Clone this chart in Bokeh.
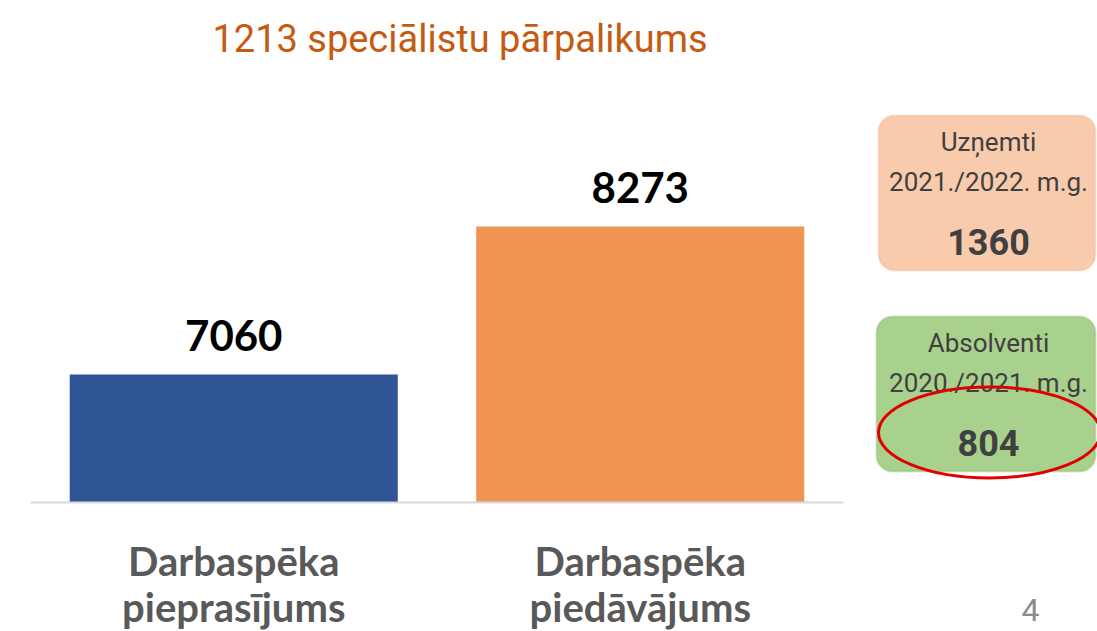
from bokeh.plotting import figure
from bokeh.models import Range1d, BoxAnnotation
from bokeh.embed import file_html
from bokeh.resources import INLINE
from bokeh.core.properties import value

# ---- data ----
title_text = "1213 speciālistu pārpalikums"
categories = ["Darbaspēka\npieprasījums", "Darbaspēka\npiedāvājums"]
values = [7060, 8273]
bar_colors = ["#2F5597", "#F09452"]
side_titles = ["Uzņemti", "Absolventi"]
side_periods = ["2021./2022. m.g.", "2020./2021. m.g."]
side_values = [1360, 804]
page_number = "4"

# ---- layout constants (page pixels) ----
W, H = 1097, 631
PLOT_L, PLOT_R = 30, 843            # extent of bar area / baseline
BASE_PX = 502                        # baseline pixel row
PX_PER_UNIT = 148 / 1213             # vertical scale
Y0 = 7060 - (BASE_PX - 374) / PX_PER_UNIT   # value at baseline
CAT_W = (PLOT_R - PLOT_L) / len(categories)

x_range = Range1d(-PLOT_L / CAT_W, (W - PLOT_L) / CAT_W)
y_range = Range1d(Y0 - (H - BASE_PX) / PX_PER_UNIT, Y0 + BASE_PX / PX_PER_UNIT)

p = figure(width=W, height=H, x_range=x_range, y_range=y_range, output_backend="svg",
           toolbar_location=None, x_axis_location=None, y_axis_location=None, min_border=0)
p.outline_line_color = None
p.grid.visible = False
p.background_fill_color = "white"
p.border_fill_color = "white"
p.extra_x_ranges = {"px": Range1d(0, W)}
p.extra_y_ranges = {"px": Range1d(H, 0)}

NARROW = "Roboto"
xs = [i + 0.5 for i in range(len(categories))]

# bars
p.vbar(x=xs, top=values, bottom=Y0, width=0.807, color=bar_colors, line_color=None)
# baseline
p.segment(x0=[0], x1=[len(categories)], y0=[Y0], y1=[Y0], line_color="#D9D9D9", line_width=2)
# value labels
p.text(x=xs, y=values, text=[str(v) for v in values], text_align="center",
       text_baseline="alphabetic", y_offset=-39, text_font=value("Lato"),
       text_font_style="bold", text_font_size="42px", text_color="#000000")
# category labels (two lines each)
lines1 = [c.split("\n")[0] for c in categories]
lines2 = [c.split("\n")[1] for c in categories]
for txt, py in ((lines1, 574), (lines2, 620)):
    p.text(x=xs, y=[py] * len(xs), y_range_name="px", text=txt, text_align="center",
           text_baseline="alphabetic", y_offset=-14, text_font=value("Lato"),
           text_font_style="bold", text_font_size="40px", text_color="#595959")

# title
p.text(x=[459.5], y=[54], x_range_name="px", y_range_name="px", text=[title_text],
       text_align="center", text_baseline="alphabetic", y_offset=-16,
       text_font=value(NARROW), text_font_size="38px", text_color="#C55A11")

# ---- side boxes ----
box_fill = ["#F8CBAD", "#A9D18E"]
box_line = ["#F4B183", "#7CB05A"]
box_left = [878, 876]
box_top = [115, 316]
box_h = 155
for i in range(2):
    p.add_layout(BoxAnnotation(left=box_left[i], right=1095, top=box_top[i], bottom=box_top[i] + box_h,
                               x_range_name="px", y_range_name="px", level="underlay",
                               fill_color=box_fill[i], fill_alpha=1.0, line_color=box_line[i],
                               line_width=2, border_radius=16))
    off = box_top[i] - 115
    p.text(x=[988, 988], y=[152 + off, 192 + off], x_range_name="px", y_range_name="px",
           text=[side_titles[i], side_periods[i]], text_align="center", text_baseline="alphabetic",
           y_offset=-11, text_font=value(NARROW), text_font_size="26px", text_color="#404040")
    p.text(x=[988], y=[256 + off], x_range_name="px", y_range_name="px",
           text=[str(side_values[i])], text_align="center", text_baseline="alphabetic",
           y_offset=-15, text_font=value(NARROW), text_font_style="bold",
           text_font_size="36px", text_color="#404040")

# red highlight ellipse
p.ellipse(x=[989], y=[432], x_range_name="px", y_range_name="px", width=222, height=91,
          width_units="screen", height_units="screen", fill_color=None,
          line_color="#E00000", line_width=3)

# page number
p.text(x=[1030], y=[622], x_range_name="px", y_range_name="px", text=[page_number],
       text_align="center", text_baseline="alphabetic", y_offset=-13, text_font=value(NARROW),
       text_font_style="normal", text_font_size="32px", text_color="#8C8C8C")

open("out.html", "w").write(file_html(p, INLINE))
